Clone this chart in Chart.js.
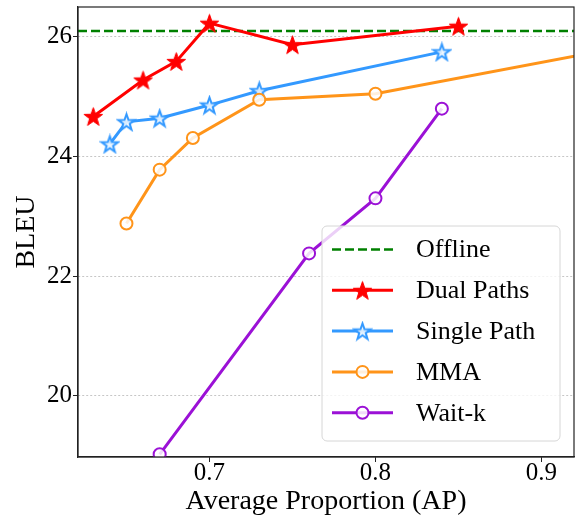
<!DOCTYPE html>
<html lang="en">

<head>
    <meta charset="UTF-8">
    <title>BLEU vs Average Proportion</title>
    <script src="https://cdn.jsdelivr.net/npm/chart.js"></script>
    <style>
        body {
            margin: 0;
            background: #ffffff;
        }

        #wrap {
            width: 575px;
            height: 519px;
        }
    </style>
</head>

<body>
    <div id="wrap">
        <canvas id="bleuChart" width="575" height="519"></canvas>
    </div>

    <script>
        // values
        const dualAP = [0.63, 0.66, 0.68, 0.70, 0.75, 0.85];
        const dualBleu = [24.67, 25.28, 25.59, 26.23, 25.87, 26.18];

        const singleAP = [0.64, 0.65, 0.67, 0.70, 0.73, 0.84];
        const singleBleu = [24.21, 24.58, 24.64, 24.86, 25.10, 25.75];

        const mmaAP = [0.65, 0.67, 0.69, 0.73, 0.80, 0.96];
        const mmaBleu = [22.88, 23.78, 24.31, 24.95, 25.05, 25.89];

        const waitkAP = [0.67, 0.76, 0.80, 0.84];
        const waitkBleu = [19.02, 22.38, 23.30, 24.80];

        const offlineBleu = 26.1;

        const xTicks = [0.7, 0.8, 0.9];
        const yTicks = [20, 22, 24, 26];
        const xRange = [0.6208, 0.9196];
        const yRange = [18.975, 26.5];

        const FONT = "'Liberation Serif', 'Times New Roman', serif";

        function pts(xs, ys) {
            return xs.map((x, i) => ({ x: x, y: ys[i] }));
        }

        // 5 point star marker drawn on a small canvas
        function makeStar(r, fill, stroke, lw) {
            const size = Math.ceil(2 * r + lw + 2);
            const c = document.createElement('canvas');
            c.width = size;
            c.height = size;
            const g = c.getContext('2d');
            const cx = size / 2, cy = size / 2 + r * 0.1;
            g.beginPath();
            for (let i = 0; i < 10; i++) {
                const rad = i % 2 === 0 ? r : r * 0.4;
                const a = -Math.PI / 2 + i * Math.PI / 5;
                const px = cx + rad * Math.cos(a), py = cy + rad * Math.sin(a);
                if (i === 0) g.moveTo(px, py); else g.lineTo(px, py);
            }
            g.closePath();
            g.fillStyle = fill;
            g.fill();
            g.lineJoin = 'miter';
            g.lineWidth = lw;
            g.strokeStyle = stroke;
            g.stroke();
            return c;
        }

        const redStar = makeStar(9.8, '#ff0000', '#ff0000', 1);
        const blueStar = makeStar(8.5, 'rgba(235,245,255,0.9)', '#3399ff', 2);

        // legend inside the plot, bottom right
        const boxLegend = {
            id: 'boxLegend',
            afterDraw(chart) {
                const ctx = chart.ctx;
                const ca = chart.chartArea;
                ctx.save();
                // frame on top and right
                ctx.strokeStyle = '#222';
                ctx.lineWidth = 1.2;
                ctx.strokeRect(ca.left, ca.top, ca.right - ca.left, ca.bottom - ca.top);

                const bx = 322, by = 226, bw = 238, bh = 215;
                ctx.beginPath();
                ctx.roundRect(bx, by, bw, bh, 5);
                ctx.fillStyle = 'rgba(255,255,255,0.8)';
                ctx.fill();
                ctx.strokeStyle = '#d6d6d6';
                ctx.lineWidth = 1;
                ctx.stroke();

                const items = chart.data.datasets;
                items.forEach((ds, i) => {
                    const y = 249.5 + i * 40.8;
                    ctx.beginPath();
                    ctx.setLineDash(ds.borderDash || []);
                    ctx.strokeStyle = ds.borderColor;
                    ctx.lineWidth = ds.borderWidth;
                    ctx.moveTo(332, y);
                    ctx.lineTo(393, y);
                    ctx.stroke();
                    ctx.setLineDash([]);
                    if (ds.pointStyle instanceof HTMLCanvasElement) {
                        const im = ds.pointStyle;
                        ctx.drawImage(im, 362.5 - im.width / 2, y - im.height / 2);
                    } else if (ds.pointRadius > 0) {
                        ctx.beginPath();
                        ctx.arc(362.5, y, ds.pointRadius, 0, Math.PI * 2);
                        ctx.fillStyle = ds.pointBackgroundColor;
                        ctx.fill();
                        ctx.lineWidth = ds.pointBorderWidth;
                        ctx.strokeStyle = ds.borderColor;
                        ctx.stroke();
                    }
                    ctx.fillStyle = '#000';
                    ctx.font = '26px ' + FONT;
                    ctx.textBaseline = 'middle';
                    ctx.textAlign = 'left';
                    ctx.fillText(ds.label, 416, y + 1);
                });
                ctx.restore();
            }
        };

        const ctx = document.getElementById('bleuChart').getContext('2d');
        new Chart(ctx, {
            type: 'line',
            data: {
                datasets: [{
                    label: 'Offline',
                    data: pts(xRange, [offlineBleu, offlineBleu]),
                    borderColor: '#008000',
                    borderWidth: 2.5,
                    borderDash: [9, 4],
                    pointRadius: 0,
                    clip: 0,
                    order: 5
                }, {
                    label: 'Dual Paths',
                    data: pts(dualAP, dualBleu),
                    borderColor: '#ff0000',
                    borderWidth: 3,
                    pointStyle: redStar,
                    clip: 0,
                    order: 4
                }, {
                    label: 'Single Path',
                    data: pts(singleAP, singleBleu),
                    borderColor: '#3399ff',
                    borderWidth: 3,
                    pointStyle: blueStar,
                    clip: 0,
                    order: 3
                }, {
                    label: 'MMA',
                    data: pts(mmaAP, mmaBleu),
                    borderColor: '#ff9419',
                    borderWidth: 3,
                    pointRadius: 6,
                    pointBorderWidth: 2,
                    pointBackgroundColor: 'rgba(255,255,255,0.85)',
                    pointBorderColor: '#ff9419',
                    clip: 0,
                    order: 2
                }, {
                    label: 'Wait-k',
                    data: pts(waitkAP, waitkBleu),
                    borderColor: '#9b11d6',
                    borderWidth: 3,
                    pointRadius: 6,
                    pointBorderWidth: 2,
                    pointBackgroundColor: 'rgba(255,255,255,0.85)',
                    pointBorderColor: '#9b11d6',
                    clip: 0,
                    order: 1
                }]
            },
            options: {
                responsive: false,
                animation: false,
                events: [],
                layout: { autoPadding: false, padding: { top: 7, right: 1, left: 0, bottom: 0 } },
                elements: { line: { tension: 0 } },
                plugins: { legend: { display: false }, tooltip: { enabled: false } },
                scales: {
                    x: {
                        type: 'linear',
                        min: xRange[0],
                        max: xRange[1],
                        afterBuildTicks: s => { s.ticks = xTicks.map(v => ({ value: v })); },
                        afterFit: s => { s.height = 62; s.paddingLeft = 0; s.paddingRight = 0; },
                        grid: { drawOnChartArea: false, drawTicks: true, tickLength: 5, tickColor: '#222', tickWidth: 1 },
                        border: { color: '#222', width: 1.2 },
                        ticks: {
                            color: '#000',
                            padding: -4,
                            maxRotation: 0,
                            font: { family: FONT, size: 25 },
                            callback: v => v.toFixed(1)
                        },
                        title: {
                            display: true,
                            text: 'Average Proportion (AP)',
                            color: '#000',
                            font: { family: FONT, size: 28 },
                            padding: { top: 0, bottom: 1 }
                        }
                    },
                    y: {
                        min: yRange[0],
                        max: yRange[1],
                        afterBuildTicks: s => { s.ticks = yTicks.map(v => ({ value: v })); },
                        afterFit: s => { s.width = 78; s.paddingTop = 0; s.paddingBottom = 0; },
                        grid: { color: '#b8b8b8', lineWidth: 0.8, tickLength: 5, tickColor: '#222', tickWidth: 1 },
                        border: { color: '#222', width: 1.2, dash: [2, 2] },
                        ticks: {
                            color: '#000',
                            padding: 1,
                            font: { family: FONT, size: 25 }
                        },
                        title: {
                            display: true,
                            text: 'BLEU',
                            color: '#000',
                            font: { family: FONT, size: 28 },
                            padding: { top: 10, bottom: 0 }
                        }
                    }
                }
            },
            plugins: [boxLegend]
        });
    </script>
</body>

</html>
